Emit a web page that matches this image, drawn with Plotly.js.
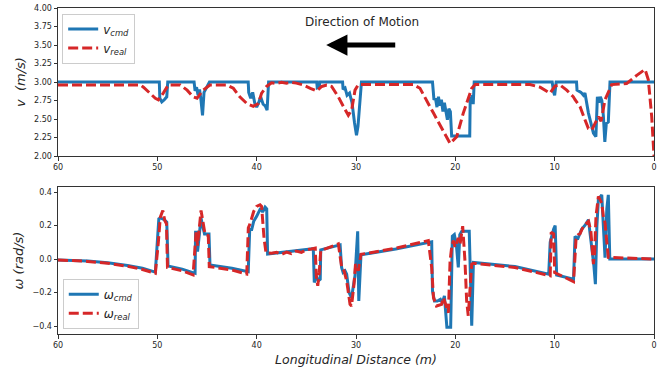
<!DOCTYPE html>
<html>
<head>
<meta charset="utf-8">
<script src="https://cdn.plot.ly/plotly-3.0.1.min.js"></script>
<style>
html,body{margin:0;padding:0;background:#fff;}
#chart{width:670px;height:369px;}
</style>
</head>
<body>
<div id="chart"></div>
<script>
// ---- Data ----
// Top panel: linear velocity v (m/s) vs longitudinal distance (m)
const dist_v_cmd = [60, 49.8, 49.75, 49.55, 49.3, 49.05, 48.95, 46.3, 46.2, 46.05,
  45.9, 45.75, 45.6, 45.45, 45.3, 45.1, 44.75, 40.85, 40.8, 40.6,
  40.4, 40.2, 40.0, 39.8, 39.6, 39.35, 39.15, 38.95, 38.8, 33.95,
  33.9, 33.7, 33.65, 31.35, 31.3, 31.1, 30.9, 30.65, 30.4, 30.15,
  29.95, 29.8, 29.45, 22.3, 22.15, 22.0, 21.85, 21.7, 21.55, 21.4,
  21.25, 21.1, 20.95, 20.8, 20.65, 20.5, 20.37, 18.55, 18.5, 18.4,
  18.3, 18.2, 18.1, 10.25, 10.1, 10.0, 9.85, 7.8, 7.75, 7.6,
  7.35, 7.1, 6.95, 6.6, 6.1, 5.85, 5.7, 5.55, 5.4, 5.25,
  5.1, 4.95, 4.8, 4.6, 4.43, 0];
const v_cmd = [3.0, 3.0, 2.78, 2.73, 2.76, 2.8, 3.0, 3.0, 2.88, 2.93,
  2.82, 2.9, 2.75, 2.55, 2.86, 2.92, 3.0, 3.0, 2.86, 2.78,
  2.86, 2.72, 2.66, 2.72, 2.8, 2.7, 2.68, 2.62, 3.0, 3.0,
  2.92, 2.93, 3.0, 3.0, 2.9, 2.92, 2.82, 2.85, 2.72, 2.45,
  2.28, 2.4, 3.0, 3.0, 2.76, 2.78, 2.66, 2.8, 2.68, 2.76,
  2.6, 2.72, 2.62, 2.49, 2.64, 2.6, 2.27, 2.27, 2.8, 2.72,
  2.82, 2.7, 3.0, 3.0, 2.86, 2.82, 3.0, 3.0, 2.89, 2.88,
  2.86, 2.82, 2.85, 2.58, 2.31, 2.26, 2.8, 2.72, 2.8, 2.75,
  2.55, 2.19, 2.44, 2.46, 3.0, 3.0];

const dist_v_real = [60, 51.7, 51.4, 50.7, 50.2, 49.9, 49.4, 48.9, 47.7, 47.0,
  46.4, 46.0, 45.4, 44.7, 43.0, 42.35, 41.7, 41.0, 40.34, 39.83,
  39.5, 39.0, 38.5, 38.0, 37.5, 37.0, 36.5, 36.0, 35.3, 34.6,
  33.96, 33.45, 32.95, 32.45, 31.78, 31.27, 30.77, 30.44, 30.1, 29.77,
  24.23, 23.56, 22.9, 22.2, 20.53, 19.86, 19.2, 18.35, 18.0, 12.48,
  11.47, 10.8, 10.47, 9.97, 9.46, 8.79, 8.12, 7.95, 7.45, 6.95,
  6.6, 6.27, 5.93, 5.6, 5.33, 4.93, 4.26, 2.75, 1.74, 0.9,
  0.57, 0.23, 0.0];
const v_real = [2.96, 2.96, 2.93, 2.85, 2.78, 2.76, 2.85, 2.96, 2.96, 2.89,
  2.80, 2.78, 2.89, 2.96, 2.96, 2.915, 2.80, 2.71, 2.67, 2.71,
  2.85, 2.94, 2.99, 2.98, 2.995, 2.985, 2.995, 2.985, 2.96, 2.915,
  2.88, 2.94, 2.96, 2.94, 2.80, 2.67, 2.55, 2.62, 2.89, 2.965,
  2.965, 2.915, 2.76, 2.58, 2.17, 2.26, 2.58, 2.915, 2.965, 2.965,
  2.93, 2.87, 2.85, 2.945, 2.96, 2.89, 2.80, 2.76, 2.67, 2.49,
  2.37, 2.35, 2.44, 2.53, 2.47, 2.76, 2.965, 2.98, 3.09, 3.17,
  3.03, 2.53, 2.0];

// Bottom panel: angular velocity omega (rad/s) vs longitudinal distance (m)
const dist_w_cmd = [60, 57, 55, 53, 51.5, 50.2, 49.85, 49.7, 49.3, 49.05,
  48.92, 48.85, 47.5, 46.2, 46.15, 46.05, 45.95, 45.85, 45.6, 45.45,
  45.25, 44.8, 44.7, 42.5, 40.85, 40.7, 40.5, 40.3, 40.0, 39.6,
  39.4, 39.15, 38.99, 38.9, 36.5, 34.3, 34.2, 34.0, 33.8, 33.6,
  33.55, 31.6, 31.45, 31.3, 31.1, 30.94, 30.7, 30.45, 30.1, 29.83,
  29.72, 29.5, 26, 22.38, 22.3, 22.1, 21.8, 21.5, 21.3, 21.1,
  20.85, 20.47, 20.3, 20.1, 19.9, 19.7, 19.55, 19.35, 18.6, 18.35,
  18.18, 14, 10.6, 10.45, 10.1, 9.95, 9.8, 8.1, 7.95, 7.7,
  7.3, 6.9, 6.6, 6.3, 6.05, 5.9, 5.75, 5.6, 5.26, 5.1,
  4.93, 4.75, 4.6, 4.45, 0];
const w_cmd = [-0.005, -0.012, -0.022, -0.038, -0.055, -0.078, 0.24, 0.245, 0.235, 0.22,
  -0.04, -0.042, -0.06, -0.085, 0.16, 0.16, 0.045, 0.1, 0.245, 0.2,
  0.15, 0.15, -0.035, -0.055, -0.075, 0.176, 0.176, 0.225, 0.255, 0.304,
  0.28, 0.31, 0.30, 0.03, 0.045, 0.062, -0.14, -0.1, -0.13, -0.12,
  0.055, 0.085, -0.05, -0.08, -0.07, -0.09, -0.2, -0.23, -0.1, 0.166,
  -0.25, 0.025, 0.06, 0.103, -0.19, -0.25, -0.25, -0.24, -0.26, -0.22,
  -0.407, -0.407, 0.136, 0.146, 0.087, -0.05, 0.146, 0.166, 0.166, -0.397,
  -0.02, -0.045, -0.09, 0.1, 0.18, 0.2, -0.095, -0.12, 0.136, 0.117,
  0.176, 0.205, 0.235, 0.1, -0.04, -0.15, 0.196, 0.354, 0.383, 0.2,
  0.008, 0.3, 0.383, 0.0, 0.0];

const dist_w_real = [60, 57, 55, 53, 51.5, 50.2, 49.9, 49.7, 49.45, 49.25,
  49.08, 48.98, 47.5, 46.4, 46.1, 45.95, 45.6, 45.2, 44.87, 44.77,
  42.5, 41.0, 40.84, 40.67, 40.3, 40.0, 39.66, 39.5, 39.26, 39.06,
  38.5, 38.0, 37.5, 37.0, 36.5, 36.0, 35.5, 35.0, 34.5, 34.1,
  34.0, 33.85, 33.7, 33.55, 31.78, 31.44, 31.2, 30.94, 30.6, 30.45,
  30.2, 30.05, 29.77, 29.5, 26, 22.72, 22.38, 22.2, 21.9, 21.38,
  21.2, 20.87, 20.7, 20.53, 20.37, 20.2, 20.03, 19.7, 19.53, 19.26,
  19.03, 18.86, 18.7, 18.35, 18.18, 14, 10.7, 10.45, 10.35, 10.1,
  10.0, 8.4, 8.1, 7.85, 7.62, 7.45, 7.11, 6.6, 6.36, 6.1,
  5.98, 5.84, 5.6, 5.26, 5.1, 4.93, 4.77, 4.6, 0];
const w_real = [-0.005, -0.014, -0.025, -0.043, -0.062, -0.085, 0.1, 0.25, 0.29, 0.23,
  0.21, -0.05, -0.07, -0.095, 0.16, 0.08, 0.29, 0.15, 0.14, -0.045,
  -0.065, -0.09, 0.186, 0.21, 0.284, 0.314, 0.324, 0.314, 0.126, 0.037,
  0.035, 0.04, 0.028, 0.042, 0.032, 0.048, 0.04, 0.055, 0.06, 0.065,
  -0.1, -0.16, -0.08, 0.05, 0.091, -0.05, -0.07, -0.13, -0.27, -0.28,
  -0.15, -0.03, -0.07, 0.028, 0.065, 0.11, -0.05, -0.23, -0.28, -0.27,
  -0.23, -0.29, -0.32, -0.012, 0.07, 0.11, 0.07, 0.126, 0.087, 0.196,
  -0.012, -0.25, -0.338, -0.03, -0.025, -0.05, -0.1, -0.1, 0.16, 0.15,
  -0.08, -0.125, -0.135, 0.117, 0.146, 0.15, 0.196, 0.225, 0.17, -0.03,
  0.037, 0.255, 0.373, 0.334, 0.255, 0.215, 0.117, 0.01, 0.0];

// Tick labels
const x_ticks = [60, 50, 40, 30, 20, 10, 0];
const v_ticks = [2.00, 2.25, 2.50, 2.75, 3.00, 3.25, 3.50, 3.75, 4.00];
const w_ticks = [-0.4, -0.2, 0.0, 0.2, 0.4];

// ---- Styling ----
const BLUE = '#1f77b4', RED = '#d62728';
const FONT = 'DejaVu Sans, Verdana, sans-serif';
const TXT = '#262626';
const AX = '#333333';

const traces = [
  {x: dist_v_cmd, y: v_cmd, xaxis: 'x', yaxis: 'y', mode: 'lines',
   name: '<i>v</i><sub><i>cmd</i></sub>', legend: 'legend',
   line: {color: BLUE, width: 3}},
  {x: dist_v_real, y: v_real, xaxis: 'x', yaxis: 'y', mode: 'lines',
   name: '<i>v</i><sub><i>real</i></sub>', legend: 'legend',
   line: {color: RED, width: 3, dash: '10px,4px'}},
  {x: dist_w_cmd, y: w_cmd, xaxis: 'x2', yaxis: 'y2', mode: 'lines',
   name: '<i>ω</i><sub><i>cmd</i></sub>', legend: 'legend2',
   line: {color: BLUE, width: 3}},
  {x: dist_w_real, y: w_real, xaxis: 'x2', yaxis: 'y2', mode: 'lines',
   name: '<i>ω</i><sub><i>real</i></sub>', legend: 'legend2',
   line: {color: RED, width: 3, dash: '10px,4px'}}
];

function xAxis(anchor, title) {
  const ax = {
    anchor: anchor, range: [60, 0], autorange: false,
    tickmode: 'array', tickvals: x_ticks, ticktext: x_ticks.map(String),
    ticks: 'outside', ticklen: 3.5, tickwidth: 1, tickcolor: AX,
    showline: true, mirror: true, linecolor: AX, linewidth: 1,
    showgrid: false, zeroline: false,
    tickfont: {family: FONT, size: 8, color: TXT}
  };
  if (title) ax.title = title;
  return ax;
}
function yAxis(anchor, domain, range, ticks, fmt, title) {
  return {
    anchor: anchor, domain: domain, range: range, autorange: false,
    tickmode: 'array', tickvals: ticks,
    tickformat: fmt,
    ticks: 'outside', ticklen: 3.5, tickwidth: 1, tickcolor: AX,
    showline: true, mirror: true, linecolor: AX, linewidth: 1,
    showgrid: false, zeroline: false,
    tickfont: {family: FONT, size: 8, color: TXT},
    title: title
  };
}

const layout = {
  width: 670, height: 369,
  margin: {l: 58, r: 16, t: 8, b: 35, pad: 0},
  paper_bgcolor: '#ffffff', plot_bgcolor: '#ffffff',
  font: {family: FONT, color: TXT},
  showlegend: true,
  xaxis: xAxis('y', null),
  yaxis: yAxis('x', [0.546, 1], [2, 4], v_ticks, '.2f',
    {text: '<i>v\u00a0\u00a0(m/s)</i>', font: {family: FONT, size: 13, color: TXT}, standoff: 5}),
  xaxis2: xAxis('y2', {text: '<i>Longitudinal Distance (m)</i>', font: {family: FONT, size: 12.5, color: TXT}, standoff: 6}),
  yaxis2: yAxis('x2', [0, 0.451], [-0.447, 0.43], w_ticks, '.1f',
    {text: '<i>ω\u00a0(rad/s)</i>', font: {family: FONT, size: 13, color: TXT}, standoff: 5}),
  legend: {
    x: 0.007, y: 0.983, xanchor: 'left', yanchor: 'top',
    bgcolor: 'rgba(255,255,255,0.85)', bordercolor: '#cccccc', borderwidth: 1,
    font: {family: FONT, size: 12, color: TXT}, itemwidth: 30,
    tracegroupgap: 0
  },
  legend2: {
    x: 0.008, y: 0.016, xanchor: 'left', yanchor: 'bottom',
    bgcolor: 'rgba(255,255,255,0.85)', bordercolor: '#cccccc', borderwidth: 1,
    font: {family: FONT, size: 12, color: TXT}, itemwidth: 30,
    tracegroupgap: 0
  },
  annotations: [
    {xref: 'x', yref: 'y', x: 29.4, y: 3.81, text: 'Direction of Motion',
     showarrow: false, font: {family: FONT, size: 12, color: TXT},
     xanchor: 'center', yanchor: 'middle'},
    {xref: 'x', yref: 'y', x: 33.0, y: 3.5, axref: 'x', ayref: 'y',
     ax: 25.9, ay: 3.5, text: '', showarrow: true,
     arrowhead: 2, arrowsize: 0.85, arrowwidth: 5, arrowcolor: '#000000'}
  ]
};

Plotly.newPlot('chart', traces, layout, {displayModeBar: false, staticPlot: true});
</script>
</body>
</html>
